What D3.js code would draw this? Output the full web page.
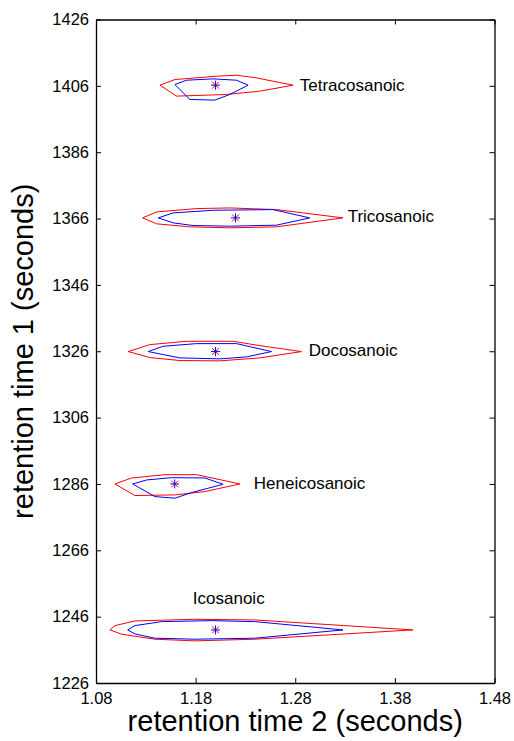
<!DOCTYPE html>
<html>
<head>
<meta charset="utf-8">
<script src="https://cdnjs.cloudflare.com/ajax/libs/d3/7.8.5/d3.min.js"></script>
<style>
  body { margin: 0; background: #fff; }
  text { font-family: "Liberation Sans", Arial, sans-serif; fill: #000; }
</style>
</head>
<body>
<div id="chart"></div>
<script>
const compounds = ["Tetracosanoic", "Tricosanoic", "Docosanoic", "Heneicosanoic", "Icosanoic"]

// peak apex (retention time 2, retention time 1)
const apexX = [1.200, 1.220, 1.200, 1.159, 1.200]
const apexY = [1406.2, 1366.2, 1325.9, 1286.0, 1242.0]

// label anchors (left edge)
const labelX = [1.2845, 1.3326, 1.2935, 1.2384, 1.1772]
const labelY = [1406.2, 1366.9, 1326.4, 1286.4, 1251.6]

// outer (red) contours
const outerContours = [
  [[1.1442, 1406.2], [1.1592, 1407.9], [1.2010, 1408.9], [1.2211, 1409.2], [1.2411, 1408.4], [1.2778, 1406.2],
   [1.2444, 1404.4], [1.2110, 1403.4], [1.1609, 1402.9]],
  [[1.1268, 1366.2], [1.1409, 1368.0], [1.1810, 1369.0], [1.2143, 1369.2], [1.2612, 1368.7], [1.3279, 1366.2],
   [1.2612, 1363.5], [1.2143, 1363.2], [1.1742, 1363.5], [1.1409, 1364.4]],
  [[1.1124, 1325.9], [1.1341, 1328.0], [1.1709, 1329.0], [1.2176, 1329.0], [1.2444, 1327.7], [1.2862, 1325.9],
   [1.2444, 1324.0], [1.2043, 1323.1], [1.1642, 1323.2], [1.1341, 1324.1]],
  [[1.0990, 1286.0], [1.1158, 1287.8], [1.1492, 1288.8], [1.1810, 1288.8], [1.2244, 1286.0],
   [1.1893, 1283.7], [1.1592, 1282.7], [1.1191, 1282.5]],
  [[1.0940, 1242.0], [1.0990, 1243.3], [1.1191, 1244.7], [1.1792, 1245.2], [1.2394, 1245.0], [1.3981, 1242.0],
   [1.2394, 1239.2], [1.1792, 1238.7], [1.1391, 1239.2], [1.1058, 1240.7]]
]

// inner (blue) contours
const innerContours = [
  [[1.1592, 1406.4], [1.1709, 1407.7], [1.1976, 1408.1], [1.2211, 1407.7], [1.2327, 1406.2],
   [1.2143, 1403.4], [1.1993, 1401.7], [1.1742, 1401.9]],
  [[1.1425, 1366.2], [1.1575, 1367.7], [1.1976, 1368.5], [1.2577, 1368.7], [1.2945, 1366.2],
   [1.2612, 1364.0], [1.2143, 1363.7], [1.1775, 1363.9], [1.1575, 1364.7]],
  [[1.1324, 1325.9], [1.1475, 1327.5], [1.1810, 1328.3], [1.2211, 1328.3], [1.2561, 1325.9],
   [1.2311, 1324.3], [1.2043, 1323.7], [1.1642, 1324.0]],
  [[1.1168, 1286.0], [1.1308, 1287.2], [1.1559, 1287.9], [1.1893, 1287.8], [1.2076, 1285.9],
   [1.1759, 1283.4], [1.1592, 1281.7], [1.1391, 1282.2]],
  [[1.1118, 1242.0], [1.1191, 1243.3], [1.1459, 1244.5], [1.1960, 1244.8], [1.2394, 1244.5], [1.3279, 1242.0],
   [1.2394, 1239.5], [1.1792, 1239.2], [1.1391, 1239.5], [1.1191, 1240.8]]
]

const xTicks = [1.08, 1.18, 1.28, 1.38, 1.48]
const yTicks = [1226, 1246, 1266, 1286, 1306, 1326, 1346, 1366, 1386, 1406, 1426]

const width = 514
const height = 741
const plotLeft = 96, plotRight = 494.5, plotTop = 19.5, plotBottom = 683

const xScale = d3.scaleLinear().domain([1.08, 1.48]).range([plotLeft, plotRight])
const yScale = d3.scaleLinear().domain([1226, 1426]).range([plotBottom, plotTop])

const svg = d3.select("#chart")
              .append("svg")
                .attr("width", width)
                .attr("height", height)

const line = d3.line()
               .x(d => xScale(d[0]))
               .y(d => yScale(d[1]))
               .curve(d3.curveLinearClosed)

// contours
svg.append("g").selectAll("path")
    .data(outerContours).enter()
      .append("path")
        .attr("d", line)
        .attr("fill", "none")
        .attr("stroke", "#ff0000")
        .attr("stroke-width", 1)

svg.append("g").selectAll("path")
    .data(innerContours).enter()
      .append("path")
        .attr("d", line)
        .attr("fill", "none")
        .attr("stroke", "#0000ff")
        .attr("stroke-width", 1)

// apex markers: red asterisk with blue plus on top
const arm = 4.5
const markers = svg.append("g").selectAll("g")
                    .data(compounds).enter()
                      .append("g")
                        .attr("transform", (d, i) => "translate(" + xScale(apexX[i]) + "," + yScale(apexY[i]) + ")")

markers.append("path")
    .attr("d", `M${-arm * 0.75},${-arm * 0.75}L${arm * 0.75},${arm * 0.75}M${-arm * 0.75},${arm * 0.75}L${arm * 0.75},${-arm * 0.75}`)
    .attr("stroke", "#ff0000")
    .attr("stroke-width", 1)
markers.append("path")
    .attr("d", `M${-arm},0L${arm},0M0,${-arm}L0,${arm}`)
    .attr("stroke", "#0000ff")
    .attr("stroke-width", 1)

// compound labels
svg.append("g").selectAll("text")
    .data(compounds).enter()
      .append("text")
        .text(d => d)
        .attr("x", (d, i) => xScale(labelX[i]))
        .attr("y", (d, i) => yScale(labelY[i]))
        .attr("dy", "0.36em")
        .attr("font-size", 17)

// axes, ticks inward on all four sides
const xAxis = d3.axisBottom(xScale).tickValues(xTicks).tickFormat(d3.format(".2f"))
                .tickSizeInner(-5).tickSizeOuter(0).tickPadding(9)
const yAxis = d3.axisLeft(yScale).tickValues(yTicks).tickFormat(d3.format("d"))
                .tickSizeInner(-5).tickSizeOuter(0).tickPadding(7)

svg.append("g")
    .attr("transform", "translate(0," + plotBottom + ")")
    .call(xAxis)
svg.append("g")
    .attr("transform", "translate(" + plotLeft + ",0)")
    .call(yAxis)

svg.append("g")
    .attr("transform", "translate(0," + plotTop + ")")
    .call(d3.axisTop(xScale).tickValues(xTicks).tickFormat("").tickSizeInner(-5).tickSizeOuter(0))
svg.append("g")
    .attr("transform", "translate(" + plotRight + ",0)")
    .call(d3.axisRight(yScale).tickValues(yTicks).tickFormat("").tickSizeInner(-5).tickSizeOuter(0))

svg.selectAll(".domain").attr("stroke", "#000").attr("stroke-width", 1.3)
svg.selectAll(".tick line").attr("stroke", "#000").attr("stroke-width", 1)
svg.selectAll(".tick text")
    .attr("font-family", "Liberation Sans, Arial, sans-serif")
    .attr("font-size", 16.5)
    .attr("fill", "#000")

// axis titles
svg.append("text")
    .text("retention time 2 (seconds)")
    .attr("text-anchor", "middle")
    .attr("font-size", 29)
    .attr("transform", "translate(" + ((plotLeft + plotRight) / 2) + "," + 731 + ")")

svg.append("text")
    .text("retention time 1 (seconds)")
    .attr("text-anchor", "middle")
    .attr("font-size", 29)
    .attr("transform", "translate(" + 33 + "," + ((plotTop + plotBottom) / 2) + ")rotate(-90)")
</script>
</body>
</html>
